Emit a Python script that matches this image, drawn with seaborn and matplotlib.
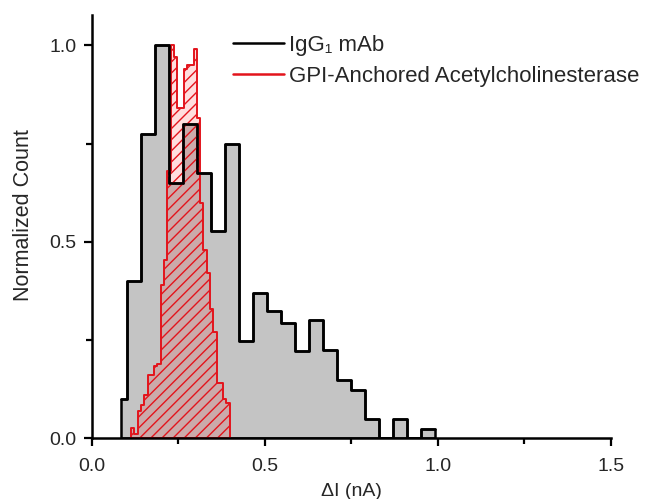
import matplotlib
matplotlib.use("Agg")
import matplotlib.pyplot as plt
from matplotlib.lines import Line2D
from matplotlib.ticker import MultipleLocator, FormatStrFormatter
import seaborn as sns

# ---- data ----
igg_edges = [0.085, 0.100, 0.1405, 0.181, 0.2215, 0.262, 0.3025, 0.343, 0.3835,
             0.424, 0.4645, 0.505, 0.5455, 0.586, 0.6265, 0.667, 0.7075, 0.748,
             0.7885, 0.829, 0.8695, 0.910, 0.9505, 0.991]
igg_heights = [0.10, 0.40, 0.775, 1.00, 0.65, 0.80, 0.675, 0.527, 0.748,
               0.248, 0.37, 0.324, 0.294, 0.222, 0.30, 0.226, 0.148, 0.124,
               0.048, 0.0, 0.048, 0.0, 0.023]

ache_edges = [0.113, 0.1225, 0.132, 0.1415, 0.151, 0.1605, 0.170, 0.1795, 0.189,
              0.1985, 0.208, 0.2175, 0.227, 0.2365, 0.246, 0.2555, 0.265, 0.2745,
              0.284, 0.2935, 0.303, 0.3125, 0.322, 0.3315, 0.341, 0.3505, 0.360,
              0.3695, 0.379, 0.3885, 0.398]
ache_heights = [0.025, 0.012, 0.07, 0.085, 0.11, 0.16, 0.16, 0.185, 0.19,
                0.39, 0.455, 0.68, 1.00, 0.97, 0.84, 0.84, 0.94, 0.95,
                0.95, 0.99, 0.815, 0.60, 0.48, 0.42, 0.33, 0.27, 0.14,
                0.14, 0.10, 0.09]

series_labels = ["IgG\u2081 mAb", "GPI-Anchored Acetylcholinesterase"]
x_label = "\u0394I (nA)"
y_label = "Normalized Count"
x_ticks = [0.0, 0.5, 1.0, 1.5]
y_ticks = [0.0, 0.5, 1.0]

# ---- style ----
sns.set_theme(style="ticks")
plt.rcParams["font.family"] = ["Liberation Sans", "DejaVu Sans"]
plt.rcParams["hatch.color"] = "#e3141c"
plt.rcParams["hatch.linewidth"] = 1.0

RED = "#e3141c"
TXT = "#262626"

fig = plt.figure(figsize=(6.52, 4.99), dpi=100)
ax = fig.add_axes([0.1411, 0.1216, 0.796, 0.848])

igg_centers = [(a + b) / 2 for a, b in zip(igg_edges[:-1], igg_edges[1:])]
ache_centers = [(a + b) / 2 for a, b in zip(ache_edges[:-1], ache_edges[1:])]

# grey filled IgG histogram
sns.histplot(x=igg_centers, weights=igg_heights, bins=igg_edges,
             element="step", fill=True, facecolor="#c4c4c4",
             edgecolor="black", linewidth=1.8, alpha=1, ax=ax)
# hatched red AChE histogram
sns.histplot(x=ache_centers, weights=ache_heights, bins=ache_edges,
             element="step", fill=True, facecolor=(1, 0, 0, 0.13),
             edgecolor=RED, linewidth=1.4, hatch="///", ax=ax)
red_coll = ax.collections[-1]
red_coll.set_hatch("///")
red_coll.set_edgecolor(RED)
# black outline of IgG on top
sns.histplot(x=igg_centers, weights=igg_heights, bins=igg_edges,
             element="step", fill=False, color="black", linewidth=1.8, ax=ax)

ax.set_xlim(0, 1.5)
ax.set_ylim(0, 1.077)
ax.set_xticks(x_ticks)
ax.set_yticks(y_ticks)
ax.xaxis.set_minor_locator(MultipleLocator(0.25))
ax.yaxis.set_minor_locator(MultipleLocator(0.25))
ax.xaxis.set_major_formatter(FormatStrFormatter("%.1f"))
ax.yaxis.set_major_formatter(FormatStrFormatter("%.1f"))

for s in ["top", "right"]:
    ax.spines[s].set_visible(False)
for s in ["left", "bottom"]:
    ax.spines[s].set_linewidth(1.8)
    ax.spines[s].set_color("black")
    ax.spines[s].set_zorder(5)

ax.tick_params(which="major", direction="out", length=6, width=1.6,
               color="black", labelsize=14, labelcolor=TXT, pad=5)
ax.tick_params(axis="x", which="major", pad=8)
ax.tick_params(which="minor", direction="out", length=4, width=1.6, color="black")

ax.set_xlabel(x_label, fontsize=14, color=TXT, labelpad=6)
ax.set_ylabel(y_label, fontsize=15.5, color=TXT, labelpad=11)
ax.yaxis.label.set_y(0.527)

handles = [Line2D([], [], color="black", lw=1.8),
           Line2D([], [], color=RED, lw=1.8)]
ax.legend(handles, series_labels, loc="upper left", frameon=False,
          bbox_to_anchor=(0.271, 0.953), borderaxespad=0, borderpad=0,
          handlelength=2.3, handletextpad=0.25, labelspacing=0.45,
          fontsize=16, labelcolor=TXT)

fig.savefig("out.png", dpi=100)
